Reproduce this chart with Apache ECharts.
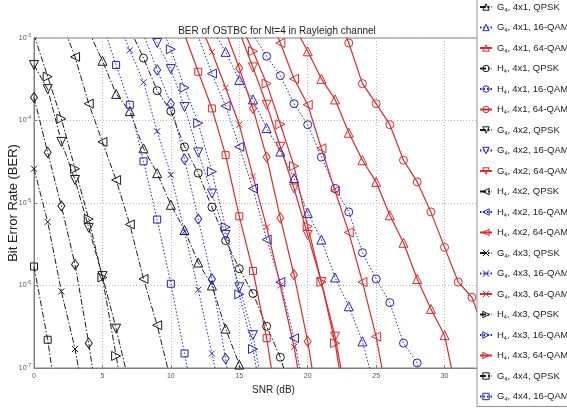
<!DOCTYPE html>
<html><head><meta charset="utf-8">
<script src="https://cdn.jsdelivr.net/npm/echarts@6/dist/echarts.min.js"></script>
<style>html,body{margin:0;padding:0;background:#fff}#c{width:567px;height:410px}</style>
</head><body><div id="c"></div>
<script>
// ---- axes ----
const snrRange = [0, 35];
const snrInterval = 5;
const berRange = [1e-7, 1e-3];
const berMinorGrid = [2,3,4,5,6,7,8,9];

// ---- QPSK (black) ----
const G4_4x1_QPSK = [[4,1.2e-3],[5,5.3e-4],[6,2.1e-4],[7,1.3e-4],[8,4.6e-5],[9,2.3e-5],[10,9.5e-6],[11,4.7e-6],[12,1.9e-6],[13,1.0e-6],[14,3e-7],[15,1.1e-7],[16,2e-8]];
const H4_4x1_QPSK = [[7,1.3e-3],[8,5.7e-4],[9,2.3e-4],[10,1.3e-4],[11,4.8e-5],[12,2.3e-5],[13,8.9e-6],[14,3.5e-6],[15,1.6e-6],[16,8e-7],[17,3.2e-7],[18,1.35e-7],[19,4e-8]];
const G4_4x2_QPSK = [[0,4.7e-4],[1,2.4e-4],[2,5.5e-5],[3,1.9e-5],[4,5e-6],[5,1.3e-6],[6,3e-7],[7,6e-8]];
const H4_4x2_QPSK = [[2,1.6e-3],[3,5.9e-4],[4,1.6e-4],[5,5.5e-5],[6,1.9e-5],[7,5.5e-6],[8,1.2e-6],[9,3.3e-7],[10,7e-8]];
const G4_4x3_QPSK = [[0,2.6e-5],[1,5.9e-6],[2,8.5e-7],[3,1.7e-7],[4,2e-8]];
const H4_4x3_QPSK = [[0,1.1e-3],[1,3.4e-4],[2,1.05e-4],[3,2.6e-5],[4,6.4e-6],[5,1.25e-6],[6,1.4e-7],[7,1.5e-8]];
const G4_4x4_QPSK = [[0,1.7e-6],[1,2.2e-7],[2,1.5e-8]];
const H4_4x4_QPSK = [[0,1.9e-4],[1,4.1e-5],[2,9.2e-6],[3,1.8e-6],[4,2.0e-7],[5,1.5e-8]];

// ---- 16-QAM (blue) ----
const G4_4x1_16QAM = [[13,1.3e-3],[14,6.8e-4],[15,3.1e-4],[16,1.8e-4],[17,8.1e-5],[18,4.2e-5],[19,2e-5],[20,7.6e-6],[21,3.6e-6],[22,1.25e-6],[23,5.6e-7],[24,2.1e-7],[25,5e-8]];
const H4_4x1_16QAM = [[16,1.1e-3],[17,6e-4],[18,3.5e-4],[19,1.6e-4],[20,8.9e-5],[21,3.6e-5],[22,1.5e-5],[23,7.8e-6],[24,2.5e-6],[25,1.2e-6],[26,6.2e-7],[27,2e-7],[28,1.15e-7],[29,2e-8]];
const G4_4x2_16QAM = [[8,1.6e-3],[9,8.7e-4],[10,4.2e-4],[11,1.46e-4],[12,4.1e-5],[13,1.3e-5],[14,4.1e-6],[15,9.5e-7],[16,2.5e-7],[17,3e-8]];
const H4_4x2_16QAM = [[12,1.05e-3],[13,3.7e-4],[14,1.5e-4],[15,4.8e-5],[16,1.5e-5],[17,3.6e-6],[18,1.1e-6],[19,2.3e-7],[20,3e-8]];
const G4_4x3_16QAM = [[6,1.8e-3],[7,7.1e-4],[8,2.9e-4],[9,7.4e-5],[10,2.2e-5],[11,4.5e-6],[12,8.9e-7],[13,1.5e-7],[14,2.5e-8]];
const H4_4x3_16QAM = [[9,1.8e-3],[10,7.3e-4],[11,2.5e-4],[12,9.3e-5],[13,2.4e-5],[14,5.1e-6],[15,7.8e-7],[16,1.7e-7],[17,2e-8]];
const G4_4x4_16QAM = [[5,1.5e-3],[6,4.7e-4],[7,1.55e-4],[8,3.2e-5],[9,6.3e-6],[10,1.05e-6],[11,1.5e-7],[12,2e-8]];
const H4_4x4_16QAM = [[8,1.1e-3],[9,4.1e-4],[10,1.6e-4],[11,3.4e-5],[12,6.4e-6],[13,1.2e-6],[14,1.3e-7],[15,1e-8]];

// ---- 64-QAM (red) ----
const G4_4x1_64QAM = [[19,1.4e-3],[20,6.9e-4],[21,3.2e-4],[22,1.8e-4],[23,7.1e-5],[24,3.3e-5],[25,1.8e-5],[26,7.1e-6],[27,3.3e-6],[28,1.2e-6],[29,5.2e-7],[30,2.5e-7],[31,4e-8]];
const H4_4x1_64QAM = [[22,2.3e-3],[23,8.7e-4],[24,2.8e-4],[25,1.6e-4],[26,8.9e-5],[27,3.3e-5],[28,1.8e-5],[29,7.8e-6],[30,2.9e-6],[31,1.1e-6],[32,7.2e-7],[33,2.5e-7]];
const G4_4x2_64QAM = [[15,1.2e-3],[16,4.4e-4],[17,1.55e-4],[18,4.8e-5],[19,1.5e-5],[20,4.1e-6],[21,1.1e-6],[22,2.4e-7],[23,3e-8]];
const H4_4x2_64QAM = [[17,2.2e-3],[18,8.7e-4],[19,3.2e-4],[20,1.55e-4],[21,4.6e-5],[22,1.4e-5],[23,4.4e-6],[24,1.1e-6],[25,2.4e-7],[26,3e-8]];
const G4_4x3_64QAM = [[12,1.6e-3],[13,6.8e-4],[14,2.5e-4],[15,8.9e-5],[16,2.1e-5],[17,5.1e-6],[18,1e-6],[19,1.8e-7],[20,2e-8]];
const H4_4x3_64QAM = [[15,1.6e-3],[16,6.9e-4],[17,2.8e-4],[18,9e-5],[19,2.8e-5],[20,5.2e-6],[21,1.1e-6],[22,2e-7],[23,2e-8]];
const G4_4x4_64QAM = [[11,1.1e-3],[12,3.9e-4],[13,1.4e-4],[14,3.8e-5],[15,6.9e-6],[16,1.5e-6],[17,2.3e-7],[18,2e-8]];
const H4_4x4_64QAM = [[14,1.2e-3],[15,4.3e-4],[16,1.4e-4],[17,3.6e-5],[18,6.6e-6],[19,1.35e-6],[20,2.1e-7],[21,2e-8]];

const configs = ['4x1','4x2','4x3','4x4'];
const codes = ['G','H'];
const mods = ['QPSK','16-QAM','64-QAM'];
const dataTable = {
  'G4x1':[G4_4x1_QPSK,G4_4x1_16QAM,G4_4x1_64QAM], 'H4x1':[H4_4x1_QPSK,H4_4x1_16QAM,H4_4x1_64QAM],
  'G4x2':[G4_4x2_QPSK,G4_4x2_16QAM,G4_4x2_64QAM], 'H4x2':[H4_4x2_QPSK,H4_4x2_16QAM,H4_4x2_64QAM],
  'G4x3':[G4_4x3_QPSK,G4_4x3_16QAM,G4_4x3_64QAM], 'H4x3':[H4_4x3_QPSK,H4_4x3_16QAM,H4_4x3_64QAM],
  'G4x4':[G4_4x4_QPSK,G4_4x4_16QAM,G4_4x4_64QAM], 'H4x4':[H4_4x4_QPSK,H4_4x4_16QAM,H4_4x4_64QAM]
};

// styling
const FONT = "'Liberation Sans',Arial,sans-serif";
const modStyle = [
  {color:'#1a1a1a', width:1, type:[6,2,1.5,2]},
  {color:'#2222cc', width:1, type:[1.5,2]},
  {color:'#dd2a2a', width:1.2, type:'solid'}
];
const XPATH = 'path://M0,0L10,10M10,0L0,10';
const markers = {
  'G4x1':{symbol:'triangle', size:9, rot:0},
  'H4x1':{symbol:'circle', size:8, rot:0},
  'G4x2':{symbol:'triangle', size:9, rot:180},
  'H4x2':{symbol:'triangle', size:9, rot:90},
  'G4x3':{symbol:XPATH, size:6, rot:0},
  'H4x3':{symbol:'triangle', size:9, rot:-90},
  'G4x4':{symbol:'rect', size:7, rot:0},
  'H4x4':{symbol:'diamond', size:[7,10], rot:0}
};

const series = [];
const legendNames = [];
configs.forEach(cfg => {
  codes.forEach(code => {
    const key = code + cfg;
    mods.forEach((m, mi) => {
      const name = code + '4, ' + cfg + ', ' + m;
      legendNames.push(name);
      const st = modStyle[mi];
      const mk = markers[key];
      series.push({
        name, type:'line', data: dataTable[key][mi],
        symbol: mk.symbol, symbolSize: mk.size, symbolRotate: mk.rot,
        showSymbol:true, showAllSymbol:true, clip:true,
        lineStyle:{color:st.color, width:st.width, type:st.type},
        itemStyle:{color:'rgba(0,0,0,0)', borderColor:st.color, borderWidth:1},
        emphasis:{disabled:true}, z: 3
      });
    });
  });
});

// minor horizontal grid (MATLAB-style log minor grid)
const minorVals = [];
for (let e = -7; e < -3; e++) berMinorGrid.forEach(k => minorVals.push(k * Math.pow(10, e)));
series.push({
  name:'_grid', type:'line', data:[], silent:true, z:1,
  markLine:{silent:true, symbol:['none','none'], label:{show:false}, animation:false, z:1,
    lineStyle:{color:'#c4c4c4', type:[1,2], width:1},
    data: minorVals.map(v => ({yAxis:v}))}
});

const chart = echarts.init(document.getElementById('c'), null, {renderer:'canvas'});
chart.setOption({
  animation:false,
  backgroundColor:'#fff',
  title:{text:'BER of OSTBC for Nt=4 in Rayleigh channel', left:272, top:21, textAlign:'center',
    textStyle:{fontFamily:FONT, fontSize:10, fontWeight:'normal', color:'#222'}},
  grid:{left:34, right:54, top:38, bottom:42, show:true, borderColor:'#808080', borderWidth:1,
    backgroundColor:'#fff', containLabel:false, outerBoundsMode:'none'},
  xAxis:{type:'value', min:snrRange[0], max:snrRange[1], interval:snrInterval,
    name:'SNR (dB)', nameLocation:'middle', nameGap:14,
    nameTextStyle:{fontFamily:FONT, fontSize:10, color:'#222', verticalAlign:'top'},
    axisLine:{lineStyle:{color:'#808080'}},
    axisTick:{inside:true, length:3, lineStyle:{color:'#808080'}},
    axisLabel:{fontFamily:FONT, fontSize:7, color:'#555', margin:5},
    splitLine:{show:true, lineStyle:{color:'#b8b8b8', type:[1,2]}}},
  yAxis:{type:'log', logBase:10, min:berRange[0], max:berRange[1],
    name:'Bit Error Rate (BER)', nameLocation:'middle', nameGap:14, nameMoveOverlap:false,
    nameTextStyle:{fontFamily:FONT, fontSize:13, color:'#222'},
    axisLine:{lineStyle:{color:'#808080'}},
    axisTick:{inside:true, length:3, lineStyle:{color:'#808080'}},
    axisLabel:{margin:3, color:'#555',
      formatter: v => '{b|10}{e|' + Math.round(Math.log10(v)) + '}',
      rich:{b:{fontFamily:FONT, fontSize:7, color:'#555'}, e:{fontFamily:FONT, fontSize:5, color:'#555', verticalAlign:'top', padding:[0,0,5,0]}}},
    splitLine:{show:true, lineStyle:{color:'#b8b8b8', type:[1,2]}}},
  legend:{data:legendNames, orient:'vertical', left:477, top:-2, itemGap:9.5, itemWidth:12, itemHeight:8,
    padding:[4,2,4,2], backgroundColor:'#fff', borderColor:'#909090', borderWidth:1, borderRadius:0,
    selectedMode:false, z:10,
    itemStyle:{color:'rgba(0,0,0,0)', borderWidth:1},
    formatter: n => '{m|' + n[0] + '}{s|4}{m|' + n.slice(2) + '}',
    textStyle:{rich:{m:{fontFamily:FONT, fontSize:9.5, color:'#222', lineHeight:12},
      s:{fontFamily:FONT, fontSize:5.5, color:'#222', lineHeight:12, verticalAlign:'bottom', padding:[4,0,0,0]}}}},
  series
});
</script></body></html>
